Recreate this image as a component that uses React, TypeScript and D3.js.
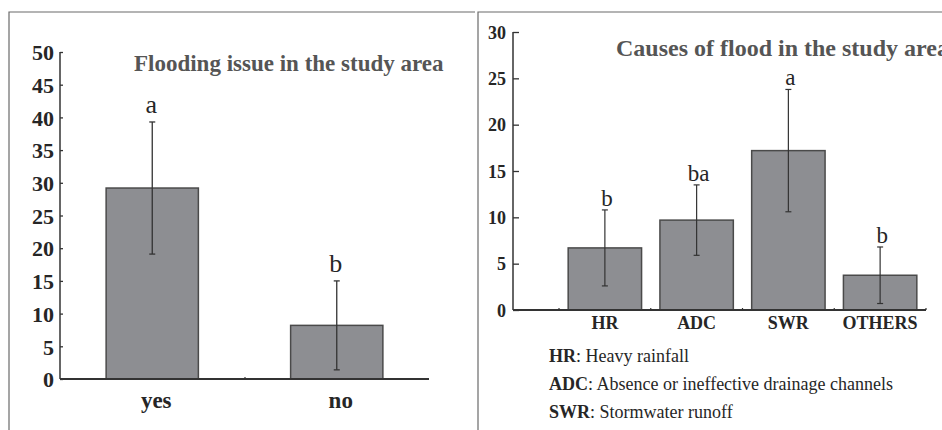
import * as d3 from 'd3'
import React, { useEffect, useRef } from "react";

// left panel: flooding issue
const floodCats = ['yes', 'no'];
const floodMeans = [29.2, 8.2];
const floodErr = [10.1, 6.8];
const floodLetters = ['a', 'b'];
const floodTicks = [0, 5, 10, 15, 20, 25, 30, 35, 40, 45, 50];

// right panel: causes of flood
const causeCats = ['HR', 'ADC', 'SWR', 'OTHERS'];
const causeMeans = [6.7, 9.7, 17.2, 3.75];
const causeErr = [4.1, 3.8, 6.6, 3.05];
const causeLetters = ['b', 'ba', 'a', 'b'];
const causeTicks = [0, 5, 10, 15, 20, 25, 30];
const legendRows = [
    ['HR', ': Heavy rainfall'],
    ['ADC', ': Absence or ineffective drainage channels'],
    ['SWR', ': Stormwater runoff'],
];

const FONT = 'Liberation Serif';
const BAR_FILL = '#8d8e92';
const BAR_STROKE = '#4a4a4a';
const INK = '#262626';

// regular serif letters render reliably at 18px, so larger ones are scaled up from it
const addLetter = (g: d3.Selection<SVGGElement, unknown, null, undefined>, x: number, y: number, size: number, txt: string) => {
    g.append('text')
        .attr('transform', `translate(${x},${y}) scale(${size / 18})`)
        .attr('font-family', FONT).attr('font-size', 18)
        .attr('text-anchor', 'middle').attr('fill', INK)
        .text(txt);
};

const App: React.FC = () => {
    const ref = useRef<SVGSVGElement>(null);

    useEffect(() => {
        if (!ref.current) return;
        const svg = d3.select(ref.current);
        svg.selectAll('*').remove();

        // panel frames
        const frame = svg.append('g').attr('stroke', '#6a6a6a').attr('fill', 'none').attr('stroke-width', 1.2);
        frame.append('path').attr('d', 'M9,430V12H475');
        frame.append('path').attr('d', 'M478,430V12H942');

        // ---------- left panel ----------
        const y1 = d3.scaleLinear().domain([0, 50]).range([379, 52]);
        const x1 = d3.scaleBand<string>().domain(floodCats).range([60, 429]).paddingInner(0.5).paddingOuter(0.25);
        const g1 = svg.append('g');

        g1.append('text')
            .attr('x', 134).attr('y', 71).attr('font-family', FONT)
            .attr('font-size', 23).attr('font-weight', 'bold').attr('fill', '#555')
            .text('Flooding issue in the study area');

        g1.selectAll('rect').data(floodCats).join('rect')
            .attr('x', d => x1(d)!)
            .attr('y', (d, i) => y1(floodMeans[i]))
            .attr('width', x1.bandwidth())
            .attr('height', (d, i) => y1(0) - y1(floodMeans[i]))
            .attr('fill', BAR_FILL).attr('stroke', BAR_STROKE).attr('stroke-width', 1.5);

        floodCats.forEach((c, i) => {
            const cx = x1(c)! + x1.bandwidth() / 2;
            const top = y1(floodMeans[i] + floodErr[i]);
            const bot = y1(floodMeans[i] - floodErr[i]);
            const eb = g1.append('g').attr('stroke', '#333').attr('stroke-width', 1.3);
            eb.append('line').attr('x1', cx).attr('x2', cx).attr('y1', top).attr('y2', bot);
            eb.append('line').attr('x1', cx - 3).attr('x2', cx + 3).attr('y1', top).attr('y2', top);
            eb.append('line').attr('x1', cx - 3).attr('x2', cx + 3).attr('y1', bot).attr('y2', bot);
            addLetter(g1, cx - 1, top - 9, 26, floodLetters[i]);
            g1.append('text')
                .attr('x', cx + 4).attr('y', 408).attr('font-family', FONT)
                .attr('text-anchor', 'middle').attr('font-size', 23).attr('font-weight', 'bold').attr('fill', INK)
                .text(c);
        });

        const ax1 = g1.append('g').attr('transform', 'translate(60,0)')
            .call(d3.axisRight(y1).tickValues(floodTicks).tickSize(3).tickFormat(d3.format('d')));
        ax1.attr('font-family', FONT);
        ax1.select('.domain').attr('stroke', '#333').attr('stroke-width', 1.5).attr('d', `M0,${y1(0)}V${y1(50)}`);
        ax1.selectAll('.tick line').attr('stroke', '#333').attr('stroke-width', 1.3);
        ax1.selectAll('.tick text')
            .attr('x', -6).attr('text-anchor', 'end').attr('dy', '0.35em')
            .attr('font-size', 22).attr('font-weight', 'bold').attr('fill', INK).attr('font-family', FONT);

        g1.append('line').attr('x1', 60).attr('x2', 429).attr('y1', y1(0)).attr('y2', y1(0))
            .attr('stroke', '#333').attr('stroke-width', 1.8);
        g1.append('line').attr('x1', 245).attr('x2', 245).attr('y1', y1(0)).attr('y2', y1(0) - 2)
            .attr('stroke', '#333').attr('stroke-width', 1.2);

        // ---------- right panel ----------
        const y2 = d3.scaleLinear().domain([0, 30]).range([310, 32]);
        const x2 = d3.scaleBand<string>().domain(causeCats).range([559, 926]).paddingInner(0.2).paddingOuter(0.1);
        const g2 = svg.append('g');

        g2.append('text')
            .attr('x', 616).attr('y', 56).attr('font-family', FONT)
            .attr('font-size', 24).attr('font-weight', 'bold').attr('fill', '#555')
            .text('Causes of flood in the study area');

        g2.selectAll('rect').data(causeCats).join('rect')
            .attr('x', d => x2(d)!)
            .attr('y', (d, i) => y2(causeMeans[i]))
            .attr('width', x2.bandwidth())
            .attr('height', (d, i) => y2(0) - y2(causeMeans[i]))
            .attr('fill', BAR_FILL).attr('stroke', BAR_STROKE).attr('stroke-width', 1.5);

        causeCats.forEach((c, i) => {
            const cx = x2(c)! + x2.bandwidth() / 2;
            const top = y2(causeMeans[i] + causeErr[i]);
            const bot = y2(causeMeans[i] - causeErr[i]);
            const eb = g2.append('g').attr('stroke', '#333').attr('stroke-width', 1.2);
            eb.append('line').attr('x1', cx).attr('x2', cx).attr('y1', top).attr('y2', bot);
            eb.append('line').attr('x1', cx - 3).attr('x2', cx + 3).attr('y1', top).attr('y2', top);
            eb.append('line').attr('x1', cx - 3).attr('x2', cx + 3).attr('y1', bot).attr('y2', bot);
            addLetter(g2, cx + 2, top - 4, 23, causeLetters[i]);
            g2.append('text')
                .attr('x', cx).attr('y', 329).attr('font-family', FONT)
                .attr('text-anchor', 'middle').attr('font-size', 18).attr('font-weight', 'bold').attr('fill', INK)
                .text(c);
        });

        const ax2 = g2.append('g').attr('transform', 'translate(513,0)')
            .call(d3.axisRight(y2).tickValues(causeTicks).tickSize(6).tickFormat(d3.format('d')));
        ax2.attr('font-family', FONT);
        ax2.select('.domain').attr('stroke', '#333').attr('stroke-width', 1.5).attr('d', `M0,${y2(0)}V${y2(30)}`);
        ax2.selectAll('.tick line').attr('stroke', '#333').attr('stroke-width', 1.3);
        ax2.selectAll('.tick text')
            .attr('x', -7).attr('text-anchor', 'end').attr('dy', '0.35em')
            .attr('font-size', 18).attr('font-weight', 'bold').attr('fill', INK).attr('font-family', FONT);

        g2.append('line').attr('x1', 513).attr('x2', 926).attr('y1', y2(0)).attr('y2', y2(0))
            .attr('stroke', '#333').attr('stroke-width', 1.8);
        const bounds = causeCats.map(c => x2(c)! - x2.step() * x2.paddingInner() / 2).concat([926]);
        g2.selectAll('line.xt').data(bounds).join('line').attr('class', 'xt')
            .attr('x1', d => d).attr('x2', d => d).attr('y1', y2(0)).attr('y2', y2(0) - 2)
            .attr('stroke', '#333').attr('stroke-width', 1.2);

        legendRows.forEach((row, i) => {
            const t = g2.append('text')
                .attr('x', 549).attr('y', 362 + i * 28).attr('font-family', FONT)
                .attr('font-size', 18).attr('fill', INK);
            t.append('tspan').attr('font-weight', 'bold').text(row[0]);
            t.append('tspan').text(row[1]);
        });
    }, []);

    return (
        <div style={{ position: 'absolute', left: 0, top: 0 }}>
            <svg ref={ref} width={942} height={430} style={{ display: 'block', background: '#fff' }}></svg>
        </div>
    );
}

export default App;
